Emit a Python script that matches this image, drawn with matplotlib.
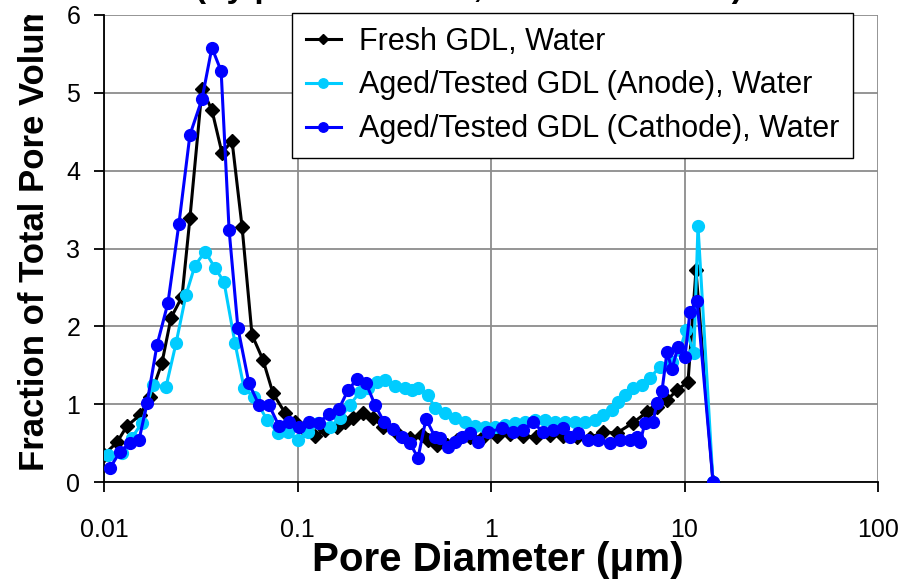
import numpy as np
import matplotlib
matplotlib.use('Agg')
import matplotlib.pyplot as plt
from matplotlib.transforms import Bbox, TransformedBbox

plt.rcParams['font.family'] = ['Liberation Sans', 'DejaVu Sans']

# pore diameter (um) and fraction of total pore volume for each sample
fresh_d = [0.0100, 0.01167, 0.01315, 0.01535, 0.01728, 0.01993, 0.0222, 0.0253, 0.0278, 0.0321,
           0.0361, 0.0407, 0.0459, 0.0517, 0.0582, 0.0663, 0.0747, 0.0861, 0.0971, 0.1094,
           0.1231, 0.1387, 0.1600, 0.1758, 0.1935, 0.2180, 0.2455, 0.2767, 0.3268, 0.3813,
           0.4397, 0.4722, 0.5260, 0.5923, 0.6673, 0.7787, 0.9094, 1.074, 1.253, 1.463,
           1.709, 2.018, 2.355, 2.780, 3.251, 3.791, 4.477, 5.415, 6.40, 7.21,
           8.12, 9.14, 10.43, 11.46, 14.04]
fresh_v = [0.35, 0.51, 0.72, 0.86, 1.09, 1.53, 2.11, 2.38, 3.39, 5.05,
           4.78, 4.23, 4.38, 3.28, 1.89, 1.57, 1.14, 0.89, 0.77, 0.67,
           0.59, 0.67, 0.71, 0.77, 0.82, 0.89, 0.82, 0.71, 0.63, 0.57,
           0.60, 0.54, 0.48, 0.48, 0.54, 0.58, 0.58, 0.59, 0.62, 0.59,
           0.58, 0.60, 0.59, 0.58, 0.57, 0.64, 0.63, 0.76, 0.90, 0.96,
           1.05, 1.18, 1.29, 2.72, 0.0]

anode_d = [0.01049, 0.0124, 0.01395, 0.01571, 0.01791, 0.0209, 0.0236, 0.0265, 0.0295, 0.0333,
           0.0375, 0.0417, 0.0475, 0.0529, 0.0596, 0.0696, 0.0793, 0.0893, 0.1006, 0.1133,
           0.1276, 0.1472, 0.1660, 0.1867, 0.2104, 0.2312, 0.2575, 0.2832, 0.3191, 0.3594,
           0.3906, 0.4195, 0.4722, 0.5137, 0.5781, 0.6516, 0.7345, 0.8260, 0.9311, 1.0495,
           1.181, 1.331, 1.499, 1.687, 1.901, 2.142, 2.410, 2.716, 3.062, 3.447,
           3.791, 4.220, 4.530, 4.923, 5.415, 6.03, 6.64, 7.47, 8.62, 9.48,
           10.18, 11.19, 11.74, 14.04]
anode_v = [0.35, 0.37, 0.57, 0.76, 1.25, 1.22, 1.79, 2.40, 2.78, 2.96,
           2.75, 2.57, 1.79, 1.21, 1.09, 0.80, 0.63, 0.64, 0.54, 0.64,
           0.76, 0.71, 0.82, 0.99, 1.16, 1.21, 1.29, 1.31, 1.23, 1.21,
           1.18, 1.21, 1.12, 0.95, 0.89, 0.82, 0.77, 0.72, 0.71, 0.71,
           0.73, 0.76, 0.77, 0.80, 0.80, 0.77, 0.77, 0.77, 0.77, 0.80,
           0.86, 0.93, 1.03, 1.12, 1.21, 1.25, 1.34, 1.48, 1.54, 1.70,
           1.95, 1.66, 3.29, 0.0]

cathode_d = [0.01074, 0.0121, 0.01362, 0.01517, 0.01668, 0.01879, 0.0214, 0.0244, 0.0278, 0.0321,
             0.0361, 0.0403, 0.0443, 0.0492, 0.0561, 0.0632, 0.0712, 0.0802, 0.0904, 0.1018,
             0.1147, 0.1291, 0.1455, 0.1638, 0.1824, 0.2029, 0.2259, 0.2516, 0.2800, 0.3117,
             0.3467, 0.3813, 0.4195, 0.4613, 0.5137, 0.5445, 0.5997, 0.6516, 0.7079, 0.7787,
             0.8565, 0.9654, 1.140, 1.300, 1.463, 1.648, 1.857, 2.089, 2.355, 2.558,
             2.817, 3.172, 3.572, 4.121, 4.641, 5.224, 5.683, 5.891, 6.25, 6.87,
             7.21, 7.65, 8.12, 8.62, 9.25, 10.06, 10.67, 11.61, 14.04]
cathode_v = [0.18, 0.39, 0.50, 0.54, 1.01, 1.76, 2.30, 3.32, 4.46, 4.92,
             5.58, 5.28, 3.24, 1.98, 1.27, 0.99, 0.99, 0.72, 0.77, 0.71,
             0.77, 0.76, 0.88, 0.94, 1.18, 1.32, 1.27, 0.99, 0.77, 0.68,
             0.58, 0.50, 0.31, 0.81, 0.58, 0.57, 0.45, 0.51, 0.58, 0.63,
             0.51, 0.64, 0.69, 0.64, 0.67, 0.77, 0.64, 0.67, 0.69, 0.58,
             0.63, 0.54, 0.54, 0.50, 0.54, 0.54, 0.58, 0.51, 0.76, 0.77,
             1.02, 1.17, 1.67, 1.45, 1.74, 1.61, 2.18, 2.33, 0.0]

x_ticks = [0.01, 0.1, 1, 10, 100]
x_ticklabels = ['0.01', '0.1', '1', '10', '100']
y_ticks = [0, 1, 2, 3, 4, 5, 6]

W, H = 918, 581
fig = plt.figure(figsize=(W / 100, H / 100), dpi=100)
ax = fig.add_axes([104 / W, 1 - 482 / H, (878 - 104) / W, (482 - 15) / H])

ax.plot(fresh_d, fresh_v, color='black', lw=2.2, marker='D', ms=7,
        label='Fresh GDL, Water', zorder=3)
ax.plot(anode_d, anode_v, color='#00CCFF', lw=2.2, marker='o', ms=8.5,
        label='Aged/Tested GDL (Anode), Water', zorder=4)
ax.plot(cathode_d, cathode_v, color='#0000FF', lw=2.2, marker='o', ms=8.5,
        label='Aged/Tested GDL (Cathode), Water', zorder=5)

ax.set_xscale('log')
ax.set_xlim(0.01, 100)
ax.set_ylim(0, 6)
ax.set_xticks(x_ticks)
ax.set_xticklabels(x_ticklabels)
ax.set_yticks(y_ticks)
ax.minorticks_off()
ax.grid(True, which='major', color='#8c8c8c', lw=1.3)
ax.set_axisbelow(True)
for s in ['top', 'right']:
    ax.spines[s].set_visible(False)
for s in ['left', 'bottom']:
    ax.spines[s].set_linewidth(1.3)
ax.tick_params(axis='both', direction='out', length=7, width=1.3, labelsize=18)
ax.tick_params(axis='x', pad=19)
ax.tick_params(axis='y', pad=10)

fig.text(0.5 * (313 + 683) / W, 1 - 560 / H, 'Pore Diameter (\u03bcm)',
         ha='center', va='center', fontsize=29, fontweight='bold')

# y title runs off the top of the chart area
ylab = fig.text(35 / W, 1 - 471 / H, 'Fraction of Total Pore Volume (%)',
                rotation=90, ha='center', va='bottom', fontsize=25, fontweight='bold')
ylab.set_clip_box(TransformedBbox(Bbox([[0, 0], [1, 1 - 15 / H]]), fig.transFigure))
ylab.set_clip_on(True)

fig.text(469 / W, 1 + 3 / H, '(by pore diameter, water intrusion)', ha='center', va='baseline',
         fontsize=24, fontweight='bold')

leg = fig.legend(loc='upper left', bbox_to_anchor=(292 / W, 1 - 13 / H), fontsize=22,
                 frameon=True, fancybox=False, framealpha=1, edgecolor='black',
                 borderaxespad=0, handlelength=1.15, handletextpad=0.6, markerscale=0.8,
                 labelspacing=0.45, borderpad=0.45)
leg.get_frame().set_linewidth(1.0)

fig.savefig('out.png', dpi=100)
